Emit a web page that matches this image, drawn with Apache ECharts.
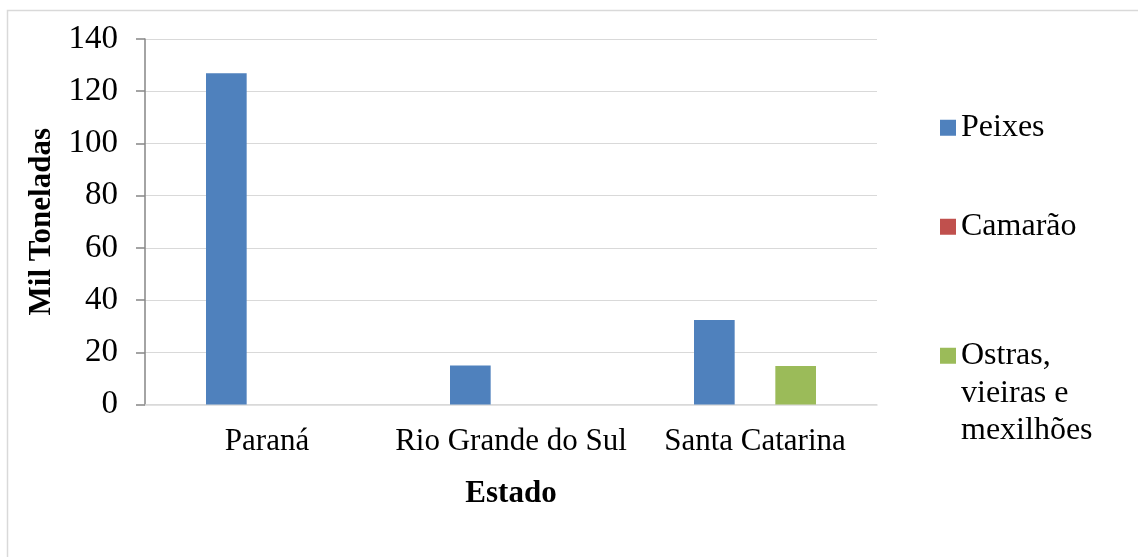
<!DOCTYPE html>
<html>
<head>
<meta charset="utf-8">
<script src="https://cdn.jsdelivr.net/npm/echarts@6/dist/echarts.min.js"></script>
<style>html,body{margin:0;padding:0;background:#fff;}#c{width:1138px;height:557px;}</style>
</head>
<body>
<div id="c"></div>
<script>
const categories = ['Paraná', 'Rio Grande do Sul', 'Santa Catarina'];
const peixes = [126.9, 14.9, 32.4];
const camarao = [0, 0, 0];
const ostras = [0, 0, 14.7];
const seriesNames = ['Peixes', 'Camarão', 'Ostras, vieiras e mexilhões'];
const yTicks = { min: 0, max: 140, interval: 20 };

const FONT = '"Liberation Serif", "Times New Roman", serif';
const FS = 31;
const colors = ['#4F81BD', '#C0504D', '#9BBB59'];

const chart = echarts.init(document.getElementById('c'), null, { renderer: 'canvas' });
const legendBase = {
  orient: 'vertical', left: 940, itemWidth: 16, itemHeight: 16, itemGap: 0,
  icon: 'rect', selectedMode: false, padding: 0,
  textStyle: { fontFamily: FONT, fontSize: 32, color: '#000', lineHeight: 37.5 }
};
chart.setOption({
  animation: false,
  backgroundColor: '#fff',
  color: colors,
  graphic: [{
    type: 'rect', silent: true, z: -10,
    shape: { x: 7.5, y: 10.5, width: 1300, height: 700 },
    style: { fill: 'none', stroke: '#D9D9D9', lineWidth: 1.5 }
  }],
  grid: { left: 145, right: 261, top: 39, bottom: 152.5, containLabel: false },
  legend: [
    Object.assign({}, legendBase, { top: 109, data: [seriesNames[0]] }),
    Object.assign({}, legendBase, { top: 208, data: [seriesNames[1]] }),
    Object.assign({}, legendBase, { top: 262, data: [seriesNames[2]],
      formatter: () => ' \n \nOstras,\nvieiras e\nmexilhões' })
  ],
  xAxis: {
    type: 'category', data: categories,
    name: 'Estado', nameLocation: 'middle', nameGap: 74,
    nameTextStyle: { fontFamily: FONT, fontSize: FS, fontWeight: 'bold', color: '#000' },
    axisLine: { lineStyle: { color: '#D9D9D9', width: 1.5 } },
    axisTick: { show: false },
    axisLabel: { interval: 0, fontFamily: FONT, fontSize: FS, color: '#000', margin: 22 }
  },
  yAxis: {
    type: 'value', min: yTicks.min, max: yTicks.max, interval: yTicks.interval,
    name: 'Mil Toneladas', nameLocation: 'middle', nameGap: 85,
    nameTextStyle: { fontFamily: FONT, fontSize: FS, fontWeight: 'bold', color: '#000' },
    axisLine: { show: true, lineStyle: { color: '#868686', width: 1.5 } },
    axisTick: { show: true, length: 9, lineStyle: { color: '#868686', width: 1.5 } },
    axisLabel: { fontFamily: FONT, fontSize: 33, color: '#000', margin: 27 },
    splitLine: { lineStyle: { color: '#D9D9D9', width: 1 } }
  },
  series: [
    { name: seriesNames[0], type: 'bar', data: peixes, barGap: '0%', barCategoryGap: '50%' },
    { name: seriesNames[1], type: 'bar', data: camarao, barGap: '0%', barCategoryGap: '50%' },
    { name: seriesNames[2], type: 'bar', data: ostras, barGap: '0%', barCategoryGap: '50%' }
  ]
});
</script>
</body>
</html>
